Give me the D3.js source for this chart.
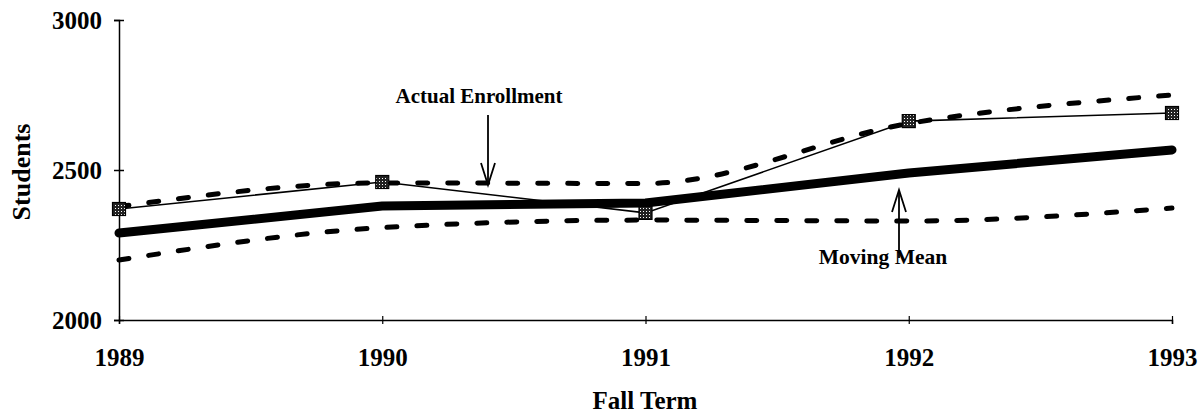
<!DOCTYPE html>
<html>
<head>
<meta charset="utf-8">
<script src="https://cdn.jsdelivr.net/npm/d3@7"></script>
<style>
  body { margin: 0; background: #fff; }
  text { font-family: "Liberation Serif", "Times New Roman", serif; font-weight: bold; fill: #000; }
</style>
</head>
<body>
<div id="chart"></div>
<script>
// fall terms on the x axis
var years = [1989, 1990, 1991, 1992, 1993];

// student counts
var actualEnrollment = [2370, 2460, 2357, 2663, 2690];
var movingMean = [2290, 2380, 2390, 2490, 2567];
var upperBand = [2378, 2457, 2455, 2655, 2750];
var lowerBand = [2200, 2308, 2333, 2330, 2373];

// axis ticks
var yTicks = [2000, 2500, 3000];

var width = 1203, height = 414;

var svg = d3.select("#chart")
  .append("svg")
  .attr("width", width)
  .attr("height", height);

// scales
var x = d3.scaleLinear()
  .domain([1989, 1993])
  .range([119, 1172]);

var y = d3.scaleLinear()
  .domain([2000, 3000])
  .range([320, 20]);

// checker fill for the markers
var pat = svg.append("defs").append("pattern")
  .attr("id", "check")
  .attr("width", 3)
  .attr("height", 3)
  .attr("patternUnits", "userSpaceOnUse");
pat.append("rect").attr("width", 3).attr("height", 3).attr("fill", "#222");
pat.append("rect").attr("x", 1).attr("y", 1).attr("width", 1).attr("height", 1).attr("fill", "#fff");

// y axis
var yAxis = d3.axisLeft(y)
  .tickValues(yTicks)
  .tickSize(5)
  .tickFormat(d3.format("d"));

var gy = svg.append("g")
  .attr("transform", "translate(" + x(1989) + ",0)")
  .call(yAxis);
gy.select(".domain").attr("stroke", "#000").attr("stroke-width", 1.5);
gy.selectAll(".tick line").attr("x2", -5).attr("x1", 5).attr("stroke-width", 1.5);
gy.selectAll(".tick text")
  .attr("x", -17)
  .attr("dy", "0.33em")
  .style("font-size", "25px")
  .style("font-family", "'Liberation Serif', serif")
  .style("font-weight", "bold");

// x axis
var xAxis = d3.axisBottom(x)
  .tickValues(years)
  .tickSize(4)
  .tickFormat(d3.format("d"));

var gx = svg.append("g")
  .attr("transform", "translate(0," + y(2000) + ")")
  .call(xAxis);
gx.select(".domain").attr("stroke", "#000").attr("stroke-width", 1.5);
gx.selectAll(".tick line").attr("y1", -4).attr("stroke-width", 1.2);
gx.selectAll(".tick text")
  .attr("y", 0)
  .attr("dy", "46px")
  .style("font-size", "25px")
  .style("font-family", "'Liberation Serif', serif")
  .style("font-weight", "bold");

// axis titles
svg.append("text")
  .attr("x", 645)
  .attr("y", 409)
  .attr("text-anchor", "middle")
  .style("font-size", "25px")
  .text("Fall Term");

svg.append("text")
  .attr("transform", "translate(30,172) rotate(-90)")
  .attr("text-anchor", "middle")
  .style("font-size", "26px")
  .text("Students");

// line generators
var smooth = d3.line()
  .x(function(d, i) { return x(years[i]); })
  .y(function(d) { return y(d); })
  .curve(d3.curveMonotoneX);

var straight = d3.line()
  .x(function(d, i) { return x(years[i]); })
  .y(function(d) { return y(d); });

// dashed bands
[upperBand, lowerBand].forEach(function(band) {
  svg.append("path")
    .datum(band)
    .attr("d", smooth)
    .attr("fill", "none")
    .attr("stroke", "#000")
    .attr("stroke-width", 5)
    .attr("stroke-dasharray", "10,20")
    .attr("stroke-linecap", "round");
});

// moving mean
svg.append("path")
  .datum(movingMean)
  .attr("d", straight)
  .attr("fill", "none")
  .attr("stroke", "#000")
  .attr("stroke-width", 9)
  .attr("stroke-linejoin", "round")
  .attr("stroke-linecap", "round");

// actual enrollment
svg.append("path")
  .datum(actualEnrollment)
  .attr("d", straight)
  .attr("fill", "none")
  .attr("stroke", "#000")
  .attr("stroke-width", 1.6);

svg.selectAll(".marker")
  .data(actualEnrollment)
  .enter().append("rect")
  .attr("class", "marker")
  .attr("x", function(d, i) { return x(years[i]) - 6.5; })
  .attr("y", function(d) { return y(d) - 6.5; })
  .attr("width", 13)
  .attr("height", 13)
  .attr("fill", "url(#check)")
  .attr("stroke", "#000")
  .attr("stroke-width", 1.2);

// annotations
function arrow(px, y1, y2) {
  var dir = y2 > y1 ? -1 : 1;
  svg.append("line")
    .attr("x1", px).attr("x2", px)
    .attr("y1", y1).attr("y2", y2)
    .attr("stroke", "#000").attr("stroke-width", 1.8);
  svg.append("path")
    .attr("d", "M" + (px - 7) + "," + (y2 + dir * 22) + "L" + px + "," + y2 + "L" + (px + 7) + "," + (y2 + dir * 22))
    .attr("fill", "none")
    .attr("stroke", "#000")
    .attr("stroke-width", 1.8);
}

svg.append("text")
  .attr("x", 479)
  .attr("y", 103)
  .attr("text-anchor", "middle")
  .style("font-size", "21px")
  .text("Actual Enrollment");
arrow(488, 115, 185);

svg.append("text")
  .attr("x", 883)
  .attr("y", 264)
  .attr("text-anchor", "middle")
  .style("font-size", "21.5px")
  .text("Moving Mean");
arrow(899, 258, 190);
</script>
</body>
</html>
